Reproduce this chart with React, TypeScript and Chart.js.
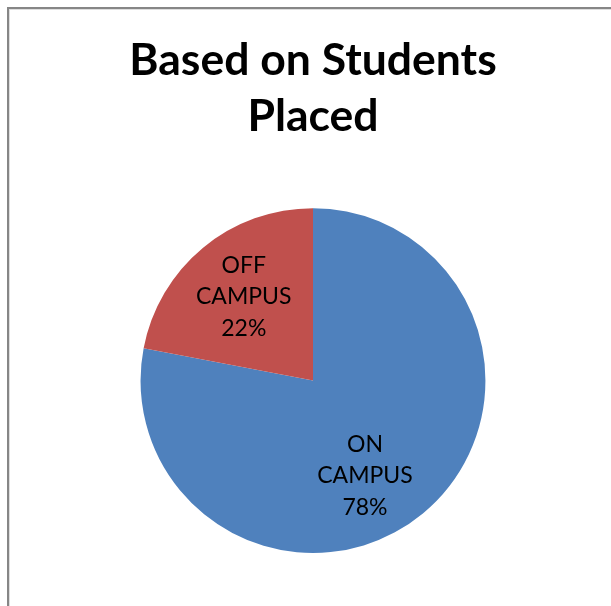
import React, { useEffect, useRef } from "react";
import { Chart, registerables } from "chart.js";

Chart.register(...registerables);

const TITLE_LINES = ["Based on Students", "Placed"];
const CATEGORIES = ["ON CAMPUS", "OFF CAMPUS"];
const VALUES = [78, 22];
const COLORS = ["#4F81BD", "#C0504D"];
// degrees to nudge each label around the pie (Excel "best fit" placement)
const LABEL_ANGLE_NUDGE = [11, 0];

const pieLabels = {
  id: "pieLabels",
  afterDatasetsDraw(chart: any) {
    const meta = chart.getDatasetMeta(0);
    const ds = chart.data.datasets[0];
    const total = ds.data.reduce((a: number, b: number) => a + b, 0);
    const ctx = chart.ctx;
    ctx.save();
    ctx.fillStyle = "#000";
    ctx.font = "23px Lato";
    ctx.textAlign = "center";
    ctx.textBaseline = "middle";
    const lh = 31.5;
    meta.data.forEach((arc: any, i: number) => {
      const p = arc.getProps(["x", "y", "startAngle", "endAngle", "outerRadius"], true);
      const mid = (p.startAngle + p.endAngle) / 2 + (LABEL_ANGLE_NUDGE[i] * Math.PI) / 180;
      const r = p.outerRadius * 0.63;
      const cx = p.x + Math.cos(mid) * r;
      const cy = p.y + Math.sin(mid) * r;
      const lines = [
        ...String(chart.data.labels[i]).split(" "),
        Math.round((ds.data[i] / total) * 100) + "%",
      ];
      const start = cy - ((lines.length - 1) * lh) / 2;
      lines.forEach((t, k) => ctx.fillText(t, cx, start + k * lh));
    });
    ctx.restore();
  },
};

export default function App() {
  const ref = useRef<HTMLCanvasElement>(null);
  useEffect(() => {
    if (!ref.current) return;
    const chart = new Chart(ref.current, {
      type: "pie",
      data: {
        labels: CATEGORIES,
        datasets: [
          {
            data: VALUES,
            backgroundColor: COLORS,
            borderWidth: 0,
          },
        ],
      },
      options: {
        responsive: false,
        animation: false,
        layout: { padding: { left: 6, right: 0, top: 0, bottom: 53 } },
        plugins: {
          legend: { display: false },
          tooltip: { enabled: false },
          title: {
            display: true,
            text: TITLE_LINES,
            color: "#000",
            font: { family: "Lato", size: 44.5, weight: "bold", lineHeight: 1.26 },
            padding: { top: 24, bottom: 63 },
          },
        },
      },
      plugins: [pieLabels],
    });
    return () => chart.destroy();
  }, []);
  return (
    <div
      style={{
        position: "fixed",
        left: 7,
        top: 7,
        right: 0,
        bottom: 0,
        borderLeft: "2px solid #868686",
        borderTop: "2px solid #868686",
        boxShadow: "inset 1px 1px 0 #dedede",
        background: "#fff",
        overflow: "hidden",
      }}
    >
      <canvas ref={ref} width={602} height={597} style={{ display: "block" }} />
    </div>
  );
}
